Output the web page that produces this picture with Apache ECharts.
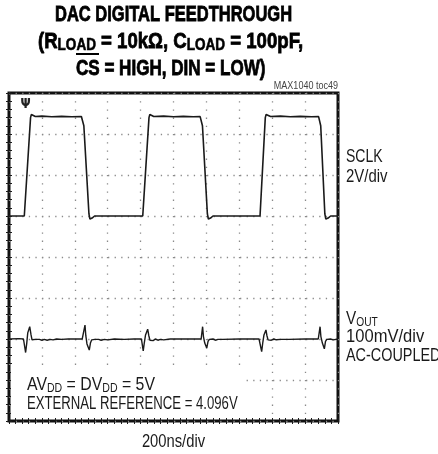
<!DOCTYPE html>
<html>
<head>
<meta charset="utf-8">
<script src="https://cdn.jsdelivr.net/npm/echarts@6/dist/echarts.min.js"></script>
<style>
  html, body { margin: 0; padding: 0; background: #fff; }
  #chart { width: 438px; height: 454px; }
</style>
</head>
<body>
<div id="chart"></div>
<script>
// Scope settings: 10 horizontal x 8 vertical divisions
const timePerDiv = 200;        // ns/div
const sclkVoltsPerDiv = 2;     // V/div
const sclkZeroDiv = 5;         // SCLK ground level, divisions above the bottom edge
const voutMvPerDiv = 100;      // mV/div
const voutZeroDiv = 2;         // VOUT (AC-coupled) zero level, divisions above the bottom edge

// SCLK trace: time (ns) and level (V)
const sclkTime = [0, 93, 131, 136, 145, 160, 200, 260, 320, 380, 440, 448, 455, 486, 492, 505, 520,
  813, 851, 856, 865, 880, 940, 1000, 1060, 1120, 1162, 1170, 1176, 1206, 1212, 1225, 1240,
  1526, 1558, 1563, 1572, 1590, 1650, 1710, 1770, 1840, 1882, 1889, 1895, 1920, 1926, 1940, 1955, 2000];
const sclkVolts = [0, 0, 4.8, 4.95, 4.9, 4.85, 4.87, 4.84, 4.86, 4.84, 4.85, 4.8, 4.4, 0.1, -0.15, -0.1, 0,
  0, 4.8, 4.95, 4.9, 4.85, 4.87, 4.84, 4.86, 4.84, 4.85, 4.8, 4.4, 0.1, -0.15, -0.1, 0,
  0, 4.8, 4.95, 4.9, 4.85, 4.87, 4.84, 4.86, 4.84, 4.85, 4.8, 4.4, 0.1, -0.15, -0.1, 0, 0];

// VOUT trace: time (ns) and deviation (mV)
const voutTime = [0, 60, 88, 95, 101, 108, 114, 126, 134, 140, 150, 162, 172, 185, 200, 215, 232, 250, 268, 290, 320, 360, 400, 445,
  455, 462, 467, 474, 488, 495, 503, 512, 522, 532, 545, 560, 580, 600, 640, 700, 760, 805,
  810, 816, 823, 830, 843, 850, 857, 866, 876, 890, 905, 920, 940, 980, 1100, 1168,
  1172, 1177, 1182, 1190, 1202, 1210, 1218, 1228, 1240, 1255, 1270, 1300, 1400, 1520,
  1530, 1536, 1543, 1550, 1562, 1568, 1575, 1585, 1595, 1610, 1625, 1650, 1700, 1800, 1880,
  1886, 1891, 1896, 1905, 1917, 1924, 1932, 1942, 1955, 1970, 2000];
const voutMv = [0, 1, 0, 4, -33, -10, 15, 30, 10, -2, -5, -1, -4, -1, -3, -1, -3, -1, -2, 0, -1, 0, 0, 0,
  3, 34, 8, -12, -27, -10, -2, -6, -1, -5, -1, -3, -1, -2, 0, -1, 0, 0,
  3, -29, -8, 10, 24, 8, -3, -1, -4, 0, -3, -1, -2, 0, 0, 0,
  3, 30, 6, -10, -22, -6, -1, -4, 0, -3, -1, -1, 0, 0,
  3, -31, -8, 10, 22, 8, -2, -1, -3, 0, -2, -1, -1, 0, 0,
  4, 30, 6, -10, -24, -6, -1, -4, 0, -2, 0];

// Convert traces to screen divisions
const sclkData = sclkTime.map((t, i) => [t, sclkZeroDiv + sclkVolts[i] / sclkVoltsPerDiv]);
const voutData = voutTime.map((t, i) => [t, voutZeroDiv + voutMv[i] / voutMvPerDiv]);

const FONT = '"Liberation Sans", Arial, sans-serif';
const INK = '#1a1a1a';

const chart = echarts.init(document.getElementById('chart'), null, { renderer: 'canvas' });

const GRID = { left: 9, top: 93, right: 100, bottom: 33 };

function edgeAxis(extra) {
  return Object.assign({
    type: 'value',
    axisLine: { show: false },
    axisLabel: { show: false },
    axisTick: { show: true, inside: true, length: 3, lineStyle: { color: INK, width: 1 } },
    minorTick: { show: true, splitNumber: 5, length: 3, lineStyle: { color: INK, width: 1 } },
    splitLine: { show: false }
  }, extra);
}

// Condensed text: regular glyphs squeezed horizontally
function label(x, y, text, opts) {
  opts = opts || {};
  const style = {
    text: text,
    align: opts.align || 'left',
    verticalAlign: 'middle',
    fill: opts.fill || INK
  };
  if (opts.rich) style.rich = opts.rich; else style.font = opts.font || ('18px ' + FONT);
  if (opts.stroke) { style.stroke = opts.stroke; style.lineWidth = opts.lineWidth; }
  return { type: 'text', x: x, y: y, z: 10, scaleX: opts.sx || 0.8, style: style };
}

const TITLE_FONT = 'bold 22px ' + FONT;
const titleRich = {
  m: { font: TITLE_FONT, fill: '#000', stroke: '#000', lineWidth: 0.8, lineHeight: 24 },
  s: { font: 'bold 16px ' + FONT, fill: '#000', stroke: '#000', lineWidth: 0.6, lineHeight: 14, verticalAlign: 'bottom' }
};
const labelRich = {
  m: { font: '18px ' + FONT, fill: INK, lineHeight: 20 },
  s: { font: '12px ' + FONT, fill: INK, lineHeight: 12, verticalAlign: 'bottom' }
};

const option = {
  animation: false,
  backgroundColor: '#fff',
  grid: {
    left: GRID.left, top: GRID.top, right: GRID.right, bottom: GRID.bottom,
    show: true, borderColor: '#111', borderWidth: 3, backgroundColor: 'transparent'
  },
  xAxis: [
    edgeAxis({
      position: 'bottom', min: 0, max: 10 * timePerDiv, interval: timePerDiv,
      splitLine: { show: true, lineStyle: { color: '#8a8a8a', width: 1.3, type: [1.3, 6.9] } }
    }),
    edgeAxis({ position: 'top', min: 0, max: 10 * timePerDiv, interval: timePerDiv })
  ],
  yAxis: [
    edgeAxis({
      position: 'left', min: 0, max: 8, interval: 1,
      splitLine: { show: true, lineStyle: { color: '#8a8a8a', width: 1.3, type: [1.3, 5.3] } }
    }),
    edgeAxis({ position: 'right', min: 0, max: 8, interval: 1 })
  ],
  series: [
    {
      name: 'SCLK', type: 'line', data: sclkData, showSymbol: false,
      lineStyle: { color: INK, width: 1.6 }, z: 5
    },
    {
      name: 'VOUT', type: 'line', data: voutData, showSymbol: false,
      lineStyle: { color: INK, width: 1.4 }, z: 5
    }
  ],
  graphic: [
    // Title
    label(55, 15, 'DAC DIGITAL FEEDTHROUGH',
      { font: TITLE_FONT, fill: '#000', stroke: '#000', lineWidth: 0.8, sx: 0.75 }),
    label(38, 42, '{m|(R}{s|LOAD}{m| = 10kΩ, C}{s|LOAD}{m| = 100pF,}',
      { rich: titleRich, sx: 0.845 }),
    label(76, 69, 'CS = HIGH, DIN = LOW)',
      { font: TITLE_FONT, fill: '#000', stroke: '#000', lineWidth: 0.8, sx: 0.775 }),
    { type: 'line', shape: { x1: 76, y1: 54, x2: 99, y2: 54 }, style: { stroke: '#000', lineWidth: 2 } },
    label(338, 86, 'MAX1040 toc49', { font: '11px ' + FONT, fill: '#444', align: 'right', sx: 0.82 }),
    // Channel marker
    {
      type: 'text', x: 25.5, y: 104, z: 10, scaleY: 1.2,
      style: { text: 'Ψ', align: 'center', verticalAlign: 'middle', font: 'bold 12px "DejaVu Sans", sans-serif', fill: '#222' }
    },
    // Channel labels
    label(346, 157, 'SCLK', { sx: 0.78 }),
    label(346, 177, '2V/div', { sx: 0.83 }),
    label(346, 319, '{m|V}{s|OUT}', { rich: labelRich, sx: 0.85 }),
    label(346, 337.5, '100mV/div', { sx: 0.92 }),
    label(346, 356, 'AC-COUPLED', { sx: 0.8 }),
    // Conditions block, on a blank patch over the graticule
    {
      type: 'rect', z: 8,
      shape: { x: 11, y: 370, width: 235, height: 45 },
      style: { fill: '#fff' }
    },
    label(27, 385, '{m|AV}{s|DD}{m| = DV}{s|DD}{m| = 5V}', { rich: labelRich, sx: 0.88 }),
    label(27, 404, 'EXTERNAL REFERENCE = 4.096V', { sx: 0.73 }),
    // Timebase
    label(173.5, 442, '200ns/div', { align: 'center', sx: 0.82 })
  ]
};

chart.setOption(option);
</script>
</body>
</html>
